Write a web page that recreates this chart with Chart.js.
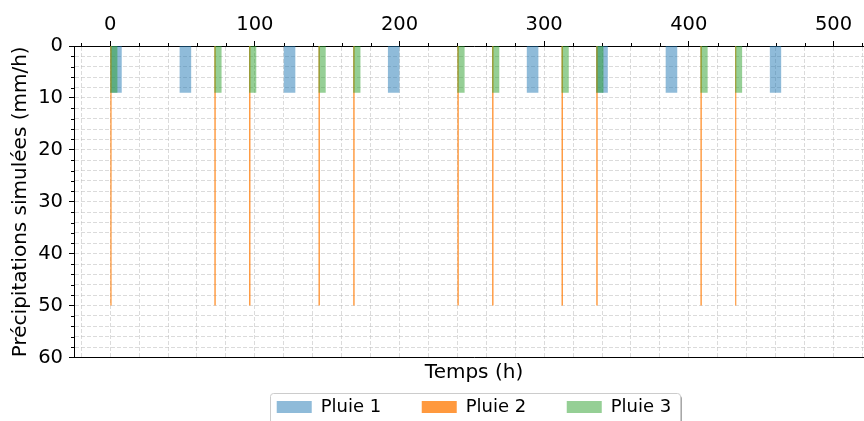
<!DOCTYPE html>
<html><head><meta charset="utf-8">
<script src="https://cdn.jsdelivr.net/npm/chart.js@4/dist/chart.umd.min.js"></script>
<style>html,body{margin:0;padding:0;overflow:hidden;background:#fff;} #wrap{position:relative;width:880px;height:426px;}</style>
</head><body><div id="wrap"><canvas id="c"></canvas></div>
<script>
// ---- data (hours, mm/h) ----
const seriesNames = ['Pluie 1', 'Pluie 2', 'Pluie 3'];
const pluie1Start = [0, 48, 120, 192, 288, 336, 384, 456];
const pluie1Duration = [8, 8, 8, 8, 8, 8, 8, 8];
const pluie1Rate = [9, 9, 9, 9, 9, 9, 9, 9];
const pluie2Start = [0, 72, 96, 144, 168, 240, 264, 312, 336, 408, 432];
const pluie2Duration = [1, 1, 1, 1, 1, 1, 1, 1, 1, 1, 1];
const pluie2Rate = [50, 50, 50, 50, 50, 50, 50, 50, 50, 50, 50];
const pluie3Start = [0, 72, 96, 144, 168, 240, 264, 312, 336, 408, 432];
const pluie3Duration = [5, 5, 5, 5, 5, 5, 5, 5, 5, 5, 5];
const pluie3Rate = [9, 9, 9, 9, 9, 9, 9, 9, 9, 9, 9];
const xMajorTicks = [0, 100, 200, 300, 400, 500];
const yMajorTicks = [0, 10, 20, 30, 40, 50, 60];
const xLabel = 'Temps (h)';
const yLabel = 'Précipitations simulées (mm/h)';

function rects(starts, durs, rates) {
  const pts = [];
  starts.forEach((s, i) => {
    const e = s + durs[i];
    pts.push({x: s, y: 0}, {x: s, y: rates[i]}, {x: e, y: rates[i]}, {x: e, y: 0});
  });
  return pts;
}

const FONT = 'DejaVu Sans';
Chart.defaults.font.family = FONT;
Chart.defaults.color = '#000';

const minorTicks = {
  id: 'minorTicks',
  beforeDraw(chart) {
    const lg = chart.legend;
    if (!lg || !lg.legendHitBoxes || !lg.legendHitBoxes.length) return;
    const hb = lg.legendHitBoxes;
    const first = hb[0], last = hb[hb.length - 1];
    const l = first.left - 7, t = first.top - 5, r = last.left + last.width + 8, b = t + 42;
    const ctx = chart.ctx;
    ctx.save();
    ctx.fillStyle = 'rgba(0,0,0,0.45)';
    ctx.beginPath(); ctx.roundRect(l + 2.5, t + 2.5, r - l, b - t, 3); ctx.fill();
    ctx.fillStyle = '#fff';
    ctx.strokeStyle = '#cccccc'; ctx.lineWidth = 1;
    ctx.beginPath(); ctx.roundRect(Math.round(l) + 0.5, Math.round(t) + 0.5, Math.round(r - l), b - t, 3); ctx.fill(); ctx.stroke();
    ctx.restore();
  },
  afterDraw(chart) {
    const ctx = chart.ctx;
    ctx.save();
    ctx.strokeStyle = '#000'; ctx.lineWidth = 1;
    const xs = chart.scales.x, ys = chart.scales.y;
    xs.ticks.forEach(t => {
      if (xMajorTicks.includes(t.value)) return;
      const px = Math.round(xs.getPixelForValue(t.value)) + 0.5;
      ctx.beginPath(); ctx.moveTo(px, xs.bottom); ctx.lineTo(px, xs.bottom - 3); ctx.stroke();
    });
    ys.ticks.forEach(t => {
      if (yMajorTicks.includes(t.value)) return;
      const py = Math.round(ys.getPixelForValue(t.value)) + 0.5;
      ctx.beginPath(); ctx.moveTo(ys.right, py); ctx.lineTo(ys.right - 3, py); ctx.stroke();
    });
    ctx.restore();
  }
};

const colors = ['rgba(31,119,180,0.5)', 'rgba(255,127,14,0.8)', 'rgba(44,160,44,0.5)'];
const seriesData = [
  rects(pluie1Start, pluie1Duration, pluie1Rate),
  rects(pluie2Start, pluie2Duration, pluie2Rate),
  rects(pluie3Start, pluie3Duration, pluie3Rate)
];

const datasets = seriesNames.map((n, i) => ({
  label: n,
  data: seriesData[i],
  backgroundColor: colors[i],
  borderColor: 'rgba(0,0,0,0)',
  borderWidth: 0,
  pointRadius: 0,
  tension: 0,
  fill: 'origin',
  order: 3 - i
}));

const gridCommon = {
  color: 'rgba(190,190,190,0.55)',
  lineWidth: 1,
  tickLength: 5,
  tickWidth: 1
};

new Chart(document.getElementById('c'), {
  type: 'line',
  data: {datasets},
  options: {
    responsive: true,
    maintainAspectRatio: false,
    animation: false,
    events: [],
    layout: {padding: {top: 0, left: 0, right: 6, bottom: 0}},
    plugins: {
      tooltip: {enabled: false},
      legend: {
        position: 'bottom',
        fullSize: false,
        labels: {
          font: {size: 18, family: FONT},
          boxWidth: 35,
          boxHeight: 12,
          padding: 40.5,
          color: '#000',
          sort: (a, b) => a.datasetIndex - b.datasetIndex
        }
      }
    },
    scales: {
      x: {
        type: 'linear',
        position: 'top',
        min: -25, max: 528,
        afterFit: s => { s.height = 46; },
        ticks: {
          stepSize: 20, autoSkip: false, includeBounds: false, maxRotation: 0,
          padding: 4,
          font: {size: 19.5, family: FONT},
          callback: v => xMajorTicks.includes(v) ? String(v) : ''
        },
        grid: Object.assign({}, gridCommon, {
          tickColor: c => (c.tick && xMajorTicks.includes(c.tick.value)) ? '#000' : 'rgba(0,0,0,0)'
        }),
        border: {display: true, color: '#000', width: 1, dash: [4, 2]}
      },
      x2: {
        type: 'linear',
        position: 'bottom',
        min: -25, max: 528,
        afterFit: s => { s.height = 0; },
        ticks: {display: false},
        grid: {display: false, drawTicks: false},
        border: {display: true, color: '#000', width: 1},
        title: {display: true, text: xLabel, font: {size: 20, family: FONT}, color: '#000', padding: {top: 0, bottom: -27}}
      },
      y: {
        type: 'linear',
        position: 'left',
        reverse: true,
        min: 0, max: 60,
        afterFit: s => { s.width = 74; },
        ticks: {
          stepSize: 2, autoSkip: false,
          padding: 6,
          font: {size: 19.5, family: FONT},
          callback: v => yMajorTicks.includes(v) ? String(v) : ''
        },
        grid: Object.assign({}, gridCommon, {
          tickColor: c => (c.tick && yMajorTicks.includes(c.tick.value)) ? '#000' : 'rgba(0,0,0,0)'
        }),
        border: {display: true, color: '#000', width: 1, dash: [4, 2]},
        title: {display: true, text: yLabel, font: {size: 20, family: FONT}, color: '#000', padding: {top: 9, bottom: 0}}
      }
    }
  },
  plugins: [minorTicks]
});
</script>
</body></html>
